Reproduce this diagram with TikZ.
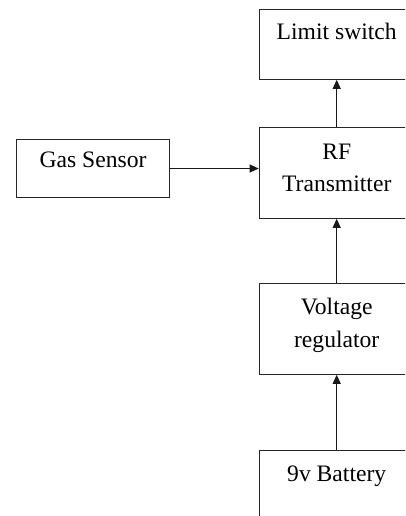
\documentclass[tikz,border=0pt]{standalone}
\usepackage{fontspec}
\setmainfont{Liberation Serif}
\usetikzlibrary{arrows.meta}
\begin{document}
\begin{tikzpicture}[x=1pt,y=-1pt,
  blk/.style={draw=black!85,line width=1pt,inner sep=0pt},
  lbl/.style={font=\fontsize{23.6}{32.5}\selectfont,align=center,anchor=base,inner sep=0pt},
  conn/.style={draw=black!90,line width=1pt,-{Triangle[length=9pt,width=8pt]}}]
\useasboundingbox (0,0) rectangle (405,516);
\clip (0,0) rectangle (405,516);
\node[blk,minimum width=155pt,minimum height=69.8pt] (limit) at (336.7,44.4) {};
\node[blk,minimum width=155pt,minimum height=90.6pt] (rf) at (336.7,173) {};
\node[blk,minimum width=155pt,minimum height=91pt] (volt) at (336.7,328.8) {};
\node[blk,minimum width=155pt,minimum height=90pt] (batt) at (336.7,495) {};
\node[blk,minimum width=152.6pt,minimum height=58.4pt] (gas) at (93,168.5) {};
\node[lbl] (tlimit) at ([yshift=-31pt]limit.north) {Limit switch};
\node[lbl] (trf) at ([yshift=-64.5pt]rf.north) {RF\\Transmitter};
\node[lbl] (tvolt) at ([yshift=-64.5pt]volt.north) {Voltage\\regulator};
\node[lbl] (tbatt) at ([yshift=-31.5pt]batt.north) {9v Battery};
\node[lbl] (tgas) at ([yshift=-29pt]gas.north) {Gas Sensor};
\draw[conn] (gas.east) -- (gas.east -| rf.west);
\draw[conn] (rf.north) -- (limit.south);
\draw[conn] (volt.north) -- (rf.south);
\draw[conn] (batt.north) -- (volt.south);
\end{tikzpicture}
\end{document}
